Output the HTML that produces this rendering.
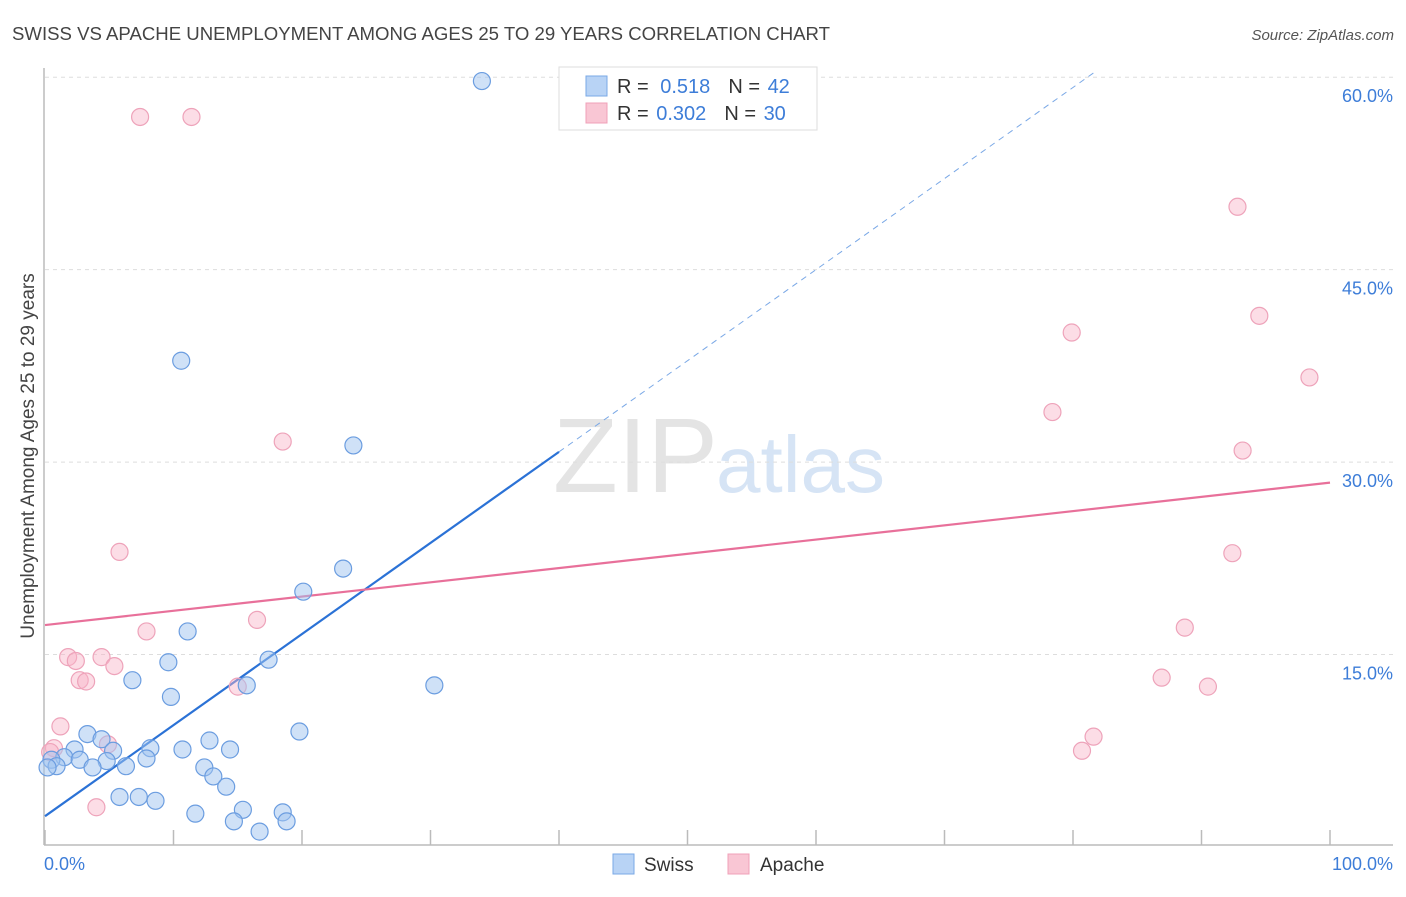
<!DOCTYPE html>
<html><head><meta charset="utf-8"><style>
body{margin:0;background:#fff;font-family:"Liberation Sans",sans-serif}
svg text{font-family:"Liberation Sans",sans-serif}
</style></head><body>
<svg id="chart" width="1406" height="892" xmlns="http://www.w3.org/2000/svg">
<text x="12" y="40" font-size="18.6" fill="#444">SWISS VS APACHE UNEMPLOYMENT AMONG AGES 25 TO 29 YEARS CORRELATION CHART</text>
<text x="1394" y="40" font-size="15" fill="#555" font-style="italic" text-anchor="end">Source: ZipAtlas.com</text>
<text transform="translate(34,456) rotate(-90)" font-size="19" fill="#444" text-anchor="middle">Unemployment Among Ages 25 to 29 years</text>
<g>
<text x="553" y="492" font-size="106" fill="#e4e4e4" font-family="Liberation Serif,serif">ZIP</text>
<text x="716" y="492" font-size="80" fill="#d6e4f5">atlas</text>
</g>
<g id="grid"></g>
<g id="axes"></g>
<g id="lines"></g>
<g id="points"></g>
<g>
<rect x="559" y="67" width="258" height="63" fill="#fff" stroke="#ddd"/>
<rect x="586" y="76" width="21" height="20" fill="#b8d3f5" stroke="#7aa8e6"/>
<rect x="586" y="103" width="21" height="20" fill="#f9c6d4" stroke="#f0a0b8"/>
<text x="617" y="93" font-size="20" fill="#333">R = <tspan fill="#3d7dd8" dx="6">0.518</tspan><tspan dx="18" fill="#333">N = </tspan><tspan fill="#3d7dd8" dx="2">42</tspan></text>
<text x="617" y="120" font-size="20" fill="#333">R = <tspan fill="#3d7dd8" dx="2">0.302</tspan><tspan dx="18" fill="#333">N = </tspan><tspan fill="#3d7dd8" dx="2">30</tspan></text>
</g>
<g>
<rect x="613" y="854" width="21" height="20" fill="#b8d3f5" stroke="#7aa8e6"/>
<text x="644" y="871" font-size="19" fill="#333">Swiss</text>
<rect x="728" y="854" width="21" height="20" fill="#f9c6d4" stroke="#f0a0b8"/>
<text x="760" y="871" font-size="19" fill="#333">Apache</text>
</g>
</svg>
<script>
const yTicks=[15,30,45,60];
const yTickLabels=["15.0%","30.0%","45.0%","60.0%"];
const xTicks=[0,10,20,30,40,50,60,70,80,90,100];
const swissX=[34.0,10.6,24.0,23.2,20.1,11.1,9.6,17.4,15.7,30.3,6.8,9.8,19.8,3.3,4.4,2.3,5.3,8.2,10.7,12.8,14.4,1.5,2.7,4.8,7.9,0.5,0.9,3.7,6.3,12.4,13.1,14.1,5.8,7.3,8.6,11.7,15.4,14.7,18.5,18.8,16.7,0.2];
const swissY=[59.7,37.9,31.3,21.7,19.9,16.8,14.4,14.6,12.6,12.6,13.0,11.7,9.0,8.8,8.4,7.6,7.5,7.7,7.6,8.3,7.6,7.0,6.8,6.7,6.9,6.8,6.3,6.2,6.3,6.2,5.5,4.7,3.9,3.9,3.6,2.6,2.9,2.0,2.7,2.0,1.2,6.2];
const apacheX=[7.4,11.4,92.8,94.5,79.9,98.4,78.4,93.2,18.5,5.8,92.4,16.5,7.9,88.7,1.8,4.4,2.4,5.4,2.7,3.2,15.0,86.9,90.5,1.2,4.9,81.6,80.7,0.7,0.4,4.0];
const apacheY=[56.9,56.9,49.9,41.4,40.1,36.6,33.9,30.9,31.6,23.0,22.9,17.7,16.8,17.1,14.8,14.8,14.5,14.1,13.0,12.9,12.5,13.2,12.5,9.4,8.0,8.6,7.5,7.7,7.4,3.1];
const swissFit=[2.4,0.71];
const apacheFit=[17.3,0.111];
const NS="http://www.w3.org/2000/svg";
const X=v=>45+v*12.85, Y=v=>847-v*12.83;
function mk(t,a,p){const e=document.createElementNS(NS,t);for(const k in a)e.setAttribute(k,a[k]);document.getElementById(p).appendChild(e);return e;}
yTicks.forEach((t,i)=>{
 const g=mk('line',{x1:45,x2:1393,y1:Y(t),y2:Y(t),stroke:'#ddd','stroke-dasharray':'4,4'},'grid');
 
 
 const l=mk('text',{x:1393,y:Y(t)+25,'font-size':18,fill:'#3d7dd8','text-anchor':'end'},'grid');
 l.textContent=yTickLabels[i];
 
 
});
const ax=mk('line',{x1:44,x2:44,y1:68,y2:845,stroke:'#bbb','stroke-width':1.5},'axes');


const bx=mk('line',{x1:44,x2:1393,y1:845,y2:845,stroke:'#bbb','stroke-width':1.5},'axes');


xTicks.forEach(t=>{
 const k=mk('line',{x1:X(t),x2:X(t),y1:830,y2:845,stroke:'#bbb','stroke-width':1.5},'axes');
 
 
});
const xl0=mk('text',{x:44,y:870,'font-size':18,fill:'#3d7dd8'},'axes');xl0.textContent='0.0%';


const xl1=mk('text',{x:1393,y:870,'font-size':18,fill:'#3d7dd8','text-anchor':'end'},'axes');xl1.textContent='100.0%';


function pts(xs,ys,fill,stroke,name){xs.forEach((x,i)=>{
 const c=mk('circle',{cx:X(x),cy:Y(ys[i]),r:8.5,fill:fill,stroke:stroke,'stroke-width':1.2},'points');
 
 
});}
pts(apacheX,apacheY,'rgba(248,180,200,0.45)','#eea3ba','apache');
pts(swissX,swissY,'rgba(160,196,240,0.5)','#6b9de0','swiss');
const sEnd=(60.5-swissFit[0])/swissFit[1];
const s1=mk('line',{x1:X(0),y1:Y(swissFit[0]),x2:X(40),y2:Y(swissFit[0]+40*swissFit[1]),stroke:'#2b72d6','stroke-width':2.2},'lines');


const s2=mk('line',{x1:X(40),y1:Y(swissFit[0]+40*swissFit[1]),x2:X(sEnd),y2:Y(60.5),stroke:'#7aa8e6','stroke-width':1,'stroke-dasharray':'6,5'},'lines');


const a1=mk('line',{x1:X(0),y1:Y(apacheFit[0]),x2:X(100),y2:Y(apacheFit[0]+100*apacheFit[1]),stroke:'#e8709a','stroke-width':2.2},'lines');


</script>
</body></html>
